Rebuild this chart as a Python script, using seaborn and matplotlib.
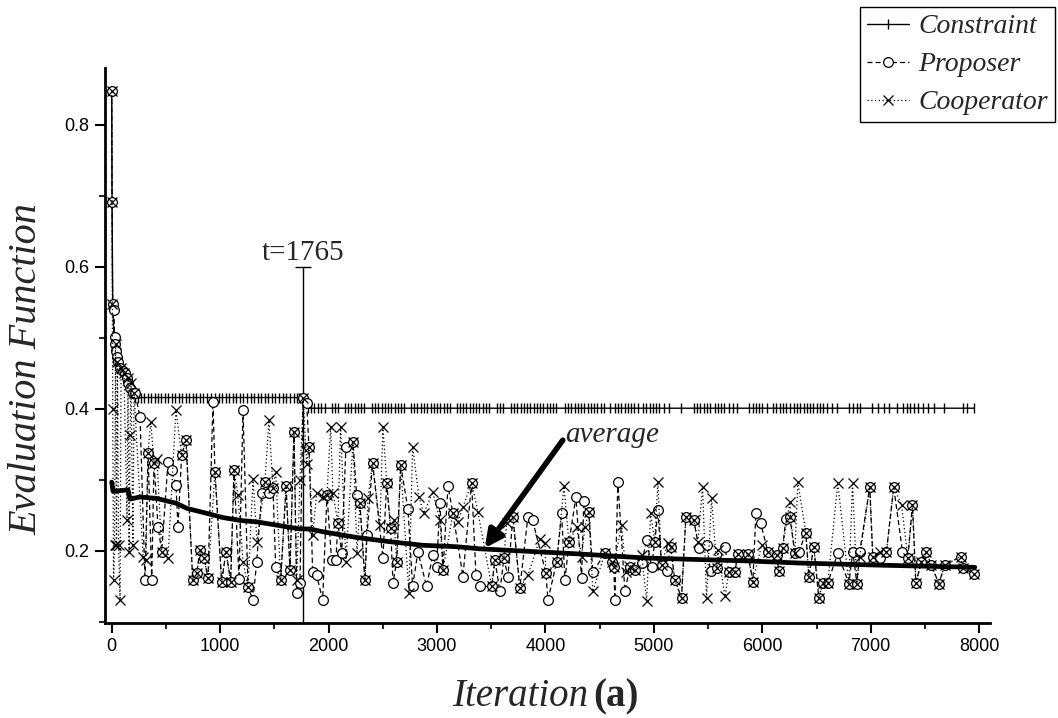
import numpy as np
import matplotlib
matplotlib.use("Agg")
import matplotlib.pyplot as plt
from matplotlib.lines import Line2D
from matplotlib.ticker import MultipleLocator
import seaborn as sns

# ---------------- data ----------------
prop_iter = [0, 3, 9, 21, 26, 30, 40, 49, 58, 77, 101, 122, 141, 150, 169, 196, 215, 261, 307, 335,
             369, 390, 427, 461, 519, 553, 592, 611, 645, 685, 747, 784, 814, 851, 888, 934, 952, 1014, 1054, 1097,
             1128, 1174, 1211, 1257, 1303, 1337, 1383, 1413, 1450, 1487, 1512, 1558, 1608, 1644, 1681, 1706, 1736, 1765, 1798, 1819,
             1853, 1890, 1945, 1985, 2028, 2068, 2086, 2121, 2160, 2225, 2259, 2289, 2335, 2354, 2406, 2501, 2536, 2572, 2594, 2628,
             2665, 2732, 2775, 2824, 2904, 2960, 2996, 3027, 3055, 3101, 3147, 3239, 3319, 3359, 3395, 3504, 3534, 3580, 3617, 3654,
             3700, 3764, 3838, 3882, 4004, 4023, 4103, 4149, 4180, 4217, 4281, 4333, 4354, 4400, 4437, 4548, 4610, 4631, 4640, 4668,
             4733, 4779, 4825, 4887, 4933, 4979, 5009, 5037, 5071, 5120, 5154, 5193, 5255, 5295, 5369, 5415, 5486, 5523, 5581, 5655,
             5692, 5747, 5775, 5867, 5913, 5941, 5984, 6051, 6131, 6153, 6187, 6217, 6254, 6300, 6337, 6402, 6429, 6475, 6521, 6558,
             6604, 6696, 6798, 6835, 6872, 6899, 6991, 7019, 7090, 7145, 7212, 7293, 7342, 7385, 7416, 7468, 7514, 7560, 7628, 7683,
             7828, 7849, 7950]
prop_val = [0.847, 0.691, 0.548, 0.539, 0.501, 0.492, 0.482, 0.473, 0.466, 0.457, 0.454, 0.450, 0.443, 0.436, 0.429, 0.423, 0.422, 0.389, 0.159, 0.338,
            0.159, 0.324, 0.234, 0.199, 0.325, 0.314, 0.293, 0.234, 0.335, 0.356, 0.159, 0.169, 0.201, 0.190, 0.162, 0.410, 0.311, 0.157, 0.199, 0.157,
            0.314, 0.160, 0.398, 0.149, 0.131, 0.185, 0.281, 0.297, 0.281, 0.289, 0.178, 0.159, 0.291, 0.173, 0.368, 0.141, 0.155, 0.415, 0.408, 0.347,
            0.171, 0.166, 0.131, 0.279, 0.187, 0.187, 0.239, 0.197, 0.347, 0.354, 0.279, 0.267, 0.159, 0.222, 0.324, 0.190, 0.296, 0.232, 0.155, 0.185,
            0.321, 0.259, 0.150, 0.199, 0.150, 0.194, 0.178, 0.267, 0.173, 0.291, 0.253, 0.164, 0.296, 0.166, 0.150, 0.150, 0.187, 0.143, 0.190, 0.164,
            0.248, 0.148, 0.248, 0.243, 0.169, 0.131, 0.184, 0.253, 0.159, 0.212, 0.276, 0.162, 0.271, 0.255, 0.170, 0.197, 0.185, 0.178, 0.131, 0.297,
            0.143, 0.178, 0.173, 0.183, 0.215, 0.178, 0.213, 0.257, 0.180, 0.172, 0.206, 0.159, 0.134, 0.248, 0.243, 0.204, 0.208, 0.172, 0.176, 0.206,
            0.170, 0.170, 0.196, 0.196, 0.157, 0.254, 0.240, 0.199, 0.194, 0.172, 0.204, 0.245, 0.248, 0.197, 0.199, 0.225, 0.164, 0.206, 0.134, 0.155,
            0.155, 0.197, 0.154, 0.199, 0.154, 0.199, 0.290, 0.192, 0.190, 0.199, 0.290, 0.199, 0.190, 0.265, 0.155, 0.185, 0.198, 0.180, 0.154, 0.180,
            0.192, 0.176, 0.168]

coop_iter = [0, 3, 6, 9, 17, 26, 35, 44, 53, 63, 77, 86, 113, 141, 150, 160, 169, 178, 196, 206,
             289, 316, 335, 360, 390, 418, 461, 519, 592, 645, 685, 747, 784, 814, 851, 888, 952, 1014, 1054, 1097,
             1128, 1164, 1211, 1257, 1303, 1340, 1413, 1450, 1487, 1512, 1558, 1608, 1644, 1681, 1706, 1736, 1765, 1798, 1819, 1853,
             1890, 1948, 1985, 2019, 2040, 2086, 2111, 2160, 2225, 2262, 2289, 2335, 2363, 2406, 2474, 2501, 2536, 2572, 2603, 2628,
             2665, 2741, 2775, 2833, 2879, 2960, 3027, 3055, 3147, 3193, 3239, 3319, 3377, 3504, 3534, 3617, 3642, 3700, 3764, 3838,
             3949, 3995, 4004, 4103, 4171, 4217, 4287, 4333, 4364, 4400, 4437, 4548, 4610, 4631, 4702, 4742, 4779, 4825, 4887, 4933,
             4970, 5009, 5037, 5071, 5129, 5154, 5193, 5255, 5295, 5369, 5406, 5449, 5486, 5532, 5581, 5590, 5655, 5692, 5747, 5775,
             5867, 5913, 5993, 6051, 6131, 6153, 6187, 6254, 6260, 6300, 6328, 6402, 6429, 6475, 6521, 6558, 6604, 6696, 6798, 6832,
             6872, 6899, 6991, 7019, 7084, 7145, 7212, 7284, 7342, 7385, 7416, 7468, 7514, 7560, 7628, 7683, 7828, 7849, 7950]
coop_val = [0.847, 0.691, 0.548, 0.400, 0.159, 0.208, 0.492, 0.208, 0.466, 0.208, 0.131, 0.457, 0.450, 0.243, 0.443, 0.199, 0.363, 0.436, 0.208, 0.423,
            0.192, 0.187, 0.338, 0.382, 0.324, 0.329, 0.199, 0.190, 0.398, 0.335, 0.356, 0.159, 0.169, 0.201, 0.190, 0.162, 0.311, 0.157, 0.199, 0.157,
            0.314, 0.279, 0.185, 0.149, 0.302, 0.213, 0.297, 0.384, 0.289, 0.311, 0.159, 0.291, 0.173, 0.368, 0.159, 0.300, 0.415, 0.323, 0.347, 0.222,
            0.281, 0.276, 0.279, 0.375, 0.282, 0.239, 0.375, 0.185, 0.354, 0.197, 0.267, 0.159, 0.274, 0.324, 0.236, 0.375, 0.296, 0.232, 0.243, 0.185,
            0.321, 0.141, 0.347, 0.276, 0.253, 0.283, 0.243, 0.173, 0.253, 0.241, 0.262, 0.296, 0.255, 0.150, 0.187, 0.190, 0.239, 0.248, 0.148, 0.166,
            0.217, 0.211, 0.169, 0.184, 0.291, 0.212, 0.234, 0.192, 0.234, 0.255, 0.143, 0.197, 0.185, 0.178, 0.237, 0.170, 0.178, 0.173, 0.194, 0.130,
            0.253, 0.213, 0.297, 0.180, 0.211, 0.206, 0.159, 0.134, 0.248, 0.243, 0.213, 0.290, 0.134, 0.274, 0.176, 0.201, 0.136, 0.170, 0.170, 0.196,
            0.196, 0.157, 0.208, 0.199, 0.194, 0.172, 0.204, 0.269, 0.248, 0.197, 0.297, 0.225, 0.164, 0.206, 0.134, 0.155, 0.155, 0.296, 0.154, 0.296,
            0.154, 0.192, 0.290, 0.192, 0.199, 0.199, 0.290, 0.265, 0.190, 0.265, 0.155, 0.185, 0.198, 0.180, 0.154, 0.180, 0.192, 0.176, 0.168]

avg_iter = [0, 12, 150, 169, 261, 415, 599, 692, 876, 1026, 1183, 1337, 1614, 1736, 1826, 1948, 2259, 2566, 2870,
            3181, 3396, 4287, 4933, 5855, 6345, 7084, 7960]
avg_val = [0.297, 0.284, 0.286, 0.273, 0.276, 0.274, 0.267, 0.260, 0.253, 0.247, 0.243, 0.241, 0.234, 0.231, 0.231, 0.227, 0.219, 0.213, 0.208,
           0.206, 0.203, 0.196, 0.190, 0.186, 0.183, 0.180, 0.177]

# constraint: early descent, then two flat levels (before / after t=1765)
cons_early_iter = [0, 3, 9, 21, 35, 49, 63, 86, 113, 141, 169, 196, 215]
cons_early_val = [0.847, 0.691, 0.548, 0.501, 0.482, 0.466, 0.457, 0.454, 0.450, 0.443, 0.429, 0.423, 0.416]
cons_level_1 = 0.416
cons_level_2 = 0.401
cons_mid_iter = [240, 270, 300, 330, 365, 395, 425, 455, 490, 520, 555, 585, 620, 650, 685, 715, 745, 780, 815, 845,
                 880, 915, 950, 985, 1015, 1050, 1080, 1115, 1150, 1180, 1215, 1245, 1280, 1310, 1345, 1380, 1410, 1445,
                 1480, 1510, 1545, 1580, 1610, 1645, 1680, 1710, 1740, 1765]
cons_late_iter = [1810, 1840, 1870, 1900, 1930, 1965, 2030, 2060, 2090, 2150, 2180, 2210, 2240, 2270, 2300, 2330, 2400, 2430,
                  2460, 2490, 2520, 2550, 2580, 2610, 2640, 2670, 2700, 2760, 2790, 2820, 2850, 2880, 2910, 2940, 2970, 3000,
                  3030, 3060, 3090, 3120, 3180, 3210, 3240, 3270, 3300, 3330, 3360, 3390, 3420, 3450, 3480, 3550, 3580, 3610,
                  3680, 3710, 3740, 3770, 3800, 3830, 3860, 3890, 3920, 3950, 3980, 4010, 4040, 4070, 4100, 4180, 4210, 4240,
                  4270, 4300, 4330, 4360, 4390, 4420, 4450, 4480, 4510, 4540, 4600, 4640, 4670, 4700, 4730, 4760, 4790, 4820,
                  4850, 4900, 4930, 4960, 4990, 5020, 5050, 5090, 5140, 5250, 5370, 5400, 5430, 5460, 5490, 5520, 5560, 5590,
                  5620, 5650, 5690, 5730, 5770, 5880, 5910, 5940, 5970, 6000, 6040, 6100, 6130, 6160, 6190, 6220, 6260, 6290,
                  6320, 6350, 6380, 6410, 6440, 6470, 6500, 6530, 6560, 6600, 6640, 6690, 6800, 6840, 6870, 6900, 7010, 7070,
                  7120, 7170, 7240, 7300, 7330, 7360, 7400, 7440, 7480, 7530, 7580, 7680, 7850, 7885, 7950]

t_mark = 1765

# ---------------- style ----------------
sns.set_style("ticks")
plt.rcParams['font.family'] = ['Liberation Sans', 'DejaVu Sans']
SERIF = ['Liberation Serif', 'DejaVu Serif']

fig = plt.figure(figsize=(10.58, 7.18), dpi=100)
ax = fig.add_axes([105/1058, 1 - 622.7/718, (990-105)/1058, (622.7-68)/718])

cons_iter = cons_early_iter + cons_mid_iter + cons_late_iter
cons_val = cons_early_val + [cons_level_1]*len(cons_mid_iter) + [cons_level_2]*len(cons_late_iter)

sns.lineplot(x=cons_iter, y=cons_val, ax=ax, estimator=None, sort=False, color='black',
             linewidth=1.0, marker='|', markersize=7, markeredgewidth=1.0,
             markeredgecolor='black', zorder=3)
sns.lineplot(x=prop_iter, y=prop_val, ax=ax, estimator=None, sort=False, color='black',
             linewidth=0.9, linestyle=(0, (4, 2.5)), marker='o', markersize=7,
             markerfacecolor='white', markeredgecolor='black', markeredgewidth=0.9, zorder=4)
sns.lineplot(x=coop_iter, y=coop_val, ax=ax, estimator=None, sort=False, color='black',
             linewidth=0.9, linestyle=(0, (1, 2)), marker='x', markersize=7,
             markeredgecolor='black', markeredgewidth=0.9, zorder=5)
sns.lineplot(x=avg_iter, y=avg_val, ax=ax, estimator=None, sort=False, color='black',
             linewidth=3.4, zorder=6)

# t = 1765 marker
ax.plot([t_mark, t_mark], [0.099, 0.6], color='black', linewidth=1.0, zorder=2)
ax.plot([t_mark], [0.6], marker='_', markersize=11, markeredgewidth=1.0, color='black', zorder=2)
ax.text(t_mark, 0.609, 't=1765', ha='center', va='baseline', fontsize=21, family=SERIF)

# average annotation
ax.annotate('', xy=(3440, 0.204), xytext=(4160, 0.356),
            arrowprops=dict(arrowstyle='-|>', lw=4, color='black', mutation_scale=26,
                            shrinkA=0, shrinkB=0), zorder=7)
ax.text(4185, 0.354, 'average', ha='left', va='baseline', fontsize=21, style='italic', family=SERIF)

# axes
ax.set_xlim(-62, 8100)
ax.set_ylim(0.099, 0.88)
ax.xaxis.set_major_locator(MultipleLocator(1000))
ax.xaxis.set_minor_locator(MultipleLocator(500))
ax.yaxis.set_major_locator(MultipleLocator(0.2))
ax.yaxis.set_minor_locator(MultipleLocator(0.1))
ax.tick_params(which='major', direction='out', length=7, width=1.5, labelsize=13, colors='black', pad=4)
ax.tick_params(which='minor', direction='out', length=4, width=1.5)
ax.set_xlabel('')
ax.set_ylabel('')
sns.despine(ax=ax)
for s in ['left', 'bottom']:
    ax.spines[s].set_linewidth(2.0)
    ax.spines[s].set_color('black')

# axis titles
fig.text(452/1058, 1 - 706/718, 'Iteration', ha='left', va='baseline', fontsize=28,
         style='italic', family=SERIF)
fig.text(593/1058, 1 - 706/718, '(a)', ha='left', va='baseline', fontsize=28,
         weight='bold', family=SERIF)
fig.text(27/1058, 1 - 369/718, 'Evaluation Function', ha='center', va='center', rotation=90,
         fontsize=29, style='italic', family=SERIF)

# legend
handles = [
    Line2D([], [], color='black', linewidth=1.0, marker='|', markersize=7, markeredgewidth=1.0),
    Line2D([], [], color='black', linewidth=0.9, linestyle=(0, (4, 2.5)), marker='o', markersize=7,
           markerfacecolor='white', markeredgecolor='black', markeredgewidth=0.9),
    Line2D([], [], color='black', linewidth=0.9, linestyle=(0, (1, 2)), marker='x', markersize=7,
           markeredgewidth=0.9),
]
leg = fig.legend(handles, ['Constraint', 'Proposer', 'Cooperator'], loc='upper right',
                 bbox_to_anchor=(1055/1058, 1 - 7/718), bbox_transform=fig.transFigure,
                 borderaxespad=0, numpoints=1, handlelength=1.5, handletextpad=0.35,
                 labelspacing=0.45, borderpad=0.25, fancybox=False, framealpha=1,
                 edgecolor='black', prop={'family': SERIF, 'style': 'italic', 'size': 20})
leg.get_frame().set_linewidth(1.0)

fig.savefig('out.png', dpi=100)
